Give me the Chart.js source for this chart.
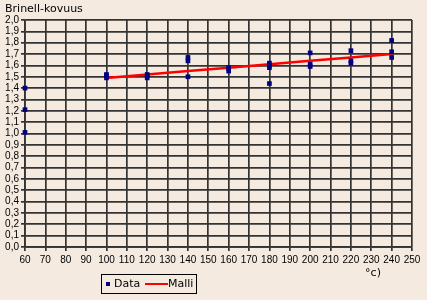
<!DOCTYPE html>
<html>
<head>
<meta charset="utf-8">
<script src="https://cdn.jsdelivr.net/npm/chart.js@4/dist/chart.umd.min.js"></script>
<style>
  html, body { margin: 0; padding: 0; background: #f4eadf; }
  canvas { display: block; }
</style>
</head>
<body>
<canvas id="chart" width="427" height="300"></canvas>
<script>
// measured points (temperature, hardness)
const dataX = [60, 60, 60, 100, 100, 100, 120, 120, 120, 140, 140, 140,
               160, 160, 160, 180, 180, 180, 180, 200, 200, 200, 220, 220, 220, 240, 240, 240];
const dataY = [1.40, 1.21, 1.01, 1.49, 1.51, 1.52, 1.49, 1.51, 1.52, 1.67, 1.64, 1.50,
               1.55, 1.57, 1.58, 1.62, 1.60, 1.58, 1.44, 1.71, 1.61, 1.59, 1.73, 1.64, 1.62, 1.82, 1.72, 1.67];

// model line
const modelX = [100, 120, 140, 160, 180, 200, 220, 240];
const modelY = [1.49, 1.52, 1.55, 1.58, 1.61, 1.64, 1.67, 1.70];

const yTitle = 'Brinell-kovuus';
const xTitle = '°c)';

const gridColor = '#333333';

const toPoints = (xs, ys) => xs.map((x, i) => ({x: x, y: ys[i]}));

const extras = {
    id: 'extras',
    afterDraw(chart) {
        const ctx = chart.ctx;
        ctx.save();
        ctx.fillStyle = '#000';
        ctx.font = '11px "DejaVu Sans"';
        ctx.textBaseline = 'middle';
        ctx.textAlign = 'left';
        ctx.fillText(yTitle, 5, 9);
        ctx.textAlign = 'center';
        ctx.fillText(xTitle, 373, 273);

        // legend box
        const lx = 101, ly = 274, lw = 95, lh = 19;
        ctx.strokeStyle = '#000';
        ctx.lineWidth = 1;
        ctx.strokeRect(lx + 0.5, ly + 0.5, lw, lh);
        const ds = chart.data.datasets;
        const my = ly + lh / 2 + 0.5;
        ctx.fillStyle = ds[0].backgroundColor;
        ctx.fillRect(lx + 5, my - 2, 4, 4);
        ctx.fillStyle = '#000';
        ctx.textAlign = 'left';
        ctx.fillText(ds[0].label, lx + 13, my);
        ctx.strokeStyle = ds[1].borderColor;
        ctx.lineWidth = 2;
        ctx.beginPath();
        ctx.moveTo(lx + 44, my);
        ctx.lineTo(lx + 67, my);
        ctx.stroke();
        ctx.fillText(ds[1].label, lx + 67, my);
        ctx.restore();
    }
};

new Chart(document.getElementById('chart'), {
    type: 'scatter',
    data: {
        datasets: [
            {
                label: 'Data',
                data: toPoints(dataX, dataY),
                pointStyle: 'rect',
                pointRadius: 3.3,
                backgroundColor: '#000080',
                borderColor: '#000080',
                borderWidth: 0,
                clip: false,
                order: 1
            },
            {
                label: 'Malli',
                type: 'line',
                data: toPoints(modelX, modelY),
                borderColor: '#ff0000',
                borderWidth: 2.5,
                pointRadius: 0,
                fill: false,
                order: 2
            }
        ]
    },
    options: {
        responsive: false,
        animation: false,
        layout: {padding: {top: 20, right: 15, bottom: 33, left: 0}},
        plugins: {
            legend: {display: false},
            tooltip: {enabled: false}
        },
        scales: {
            x: {
                type: 'linear',
                min: 60,
                max: 250,
                afterFit: (scale) => { scale.height = 20; },
                ticks: {
                    stepSize: 10,
                    padding: 3,
                    color: '#000',
                    maxRotation: 0,
                    autoSkip: false,
                    font: {family: 'Liberation Sans', size: 10}
                },
                grid: {color: gridColor, lineWidth: 1.7, tickLength: 4},
                border: {color: gridColor, width: 1.7}
            },
            y: {
                min: 0,
                max: 2,
                afterFit: (scale) => { scale.width = 25; },
                ticks: {
                    stepSize: 0.1,
                    padding: 2,
                    color: '#000',
                    autoSkip: false,
                    font: {family: 'Liberation Sans', size: 10},
                    callback: (v) => v.toFixed(1).replace('.', ',')
                },
                grid: {color: gridColor, lineWidth: 1.7, tickLength: 4},
                border: {color: gridColor, width: 1.7}
            }
        }
    },
    plugins: [extras]
});
</script>
</body>
</html>
